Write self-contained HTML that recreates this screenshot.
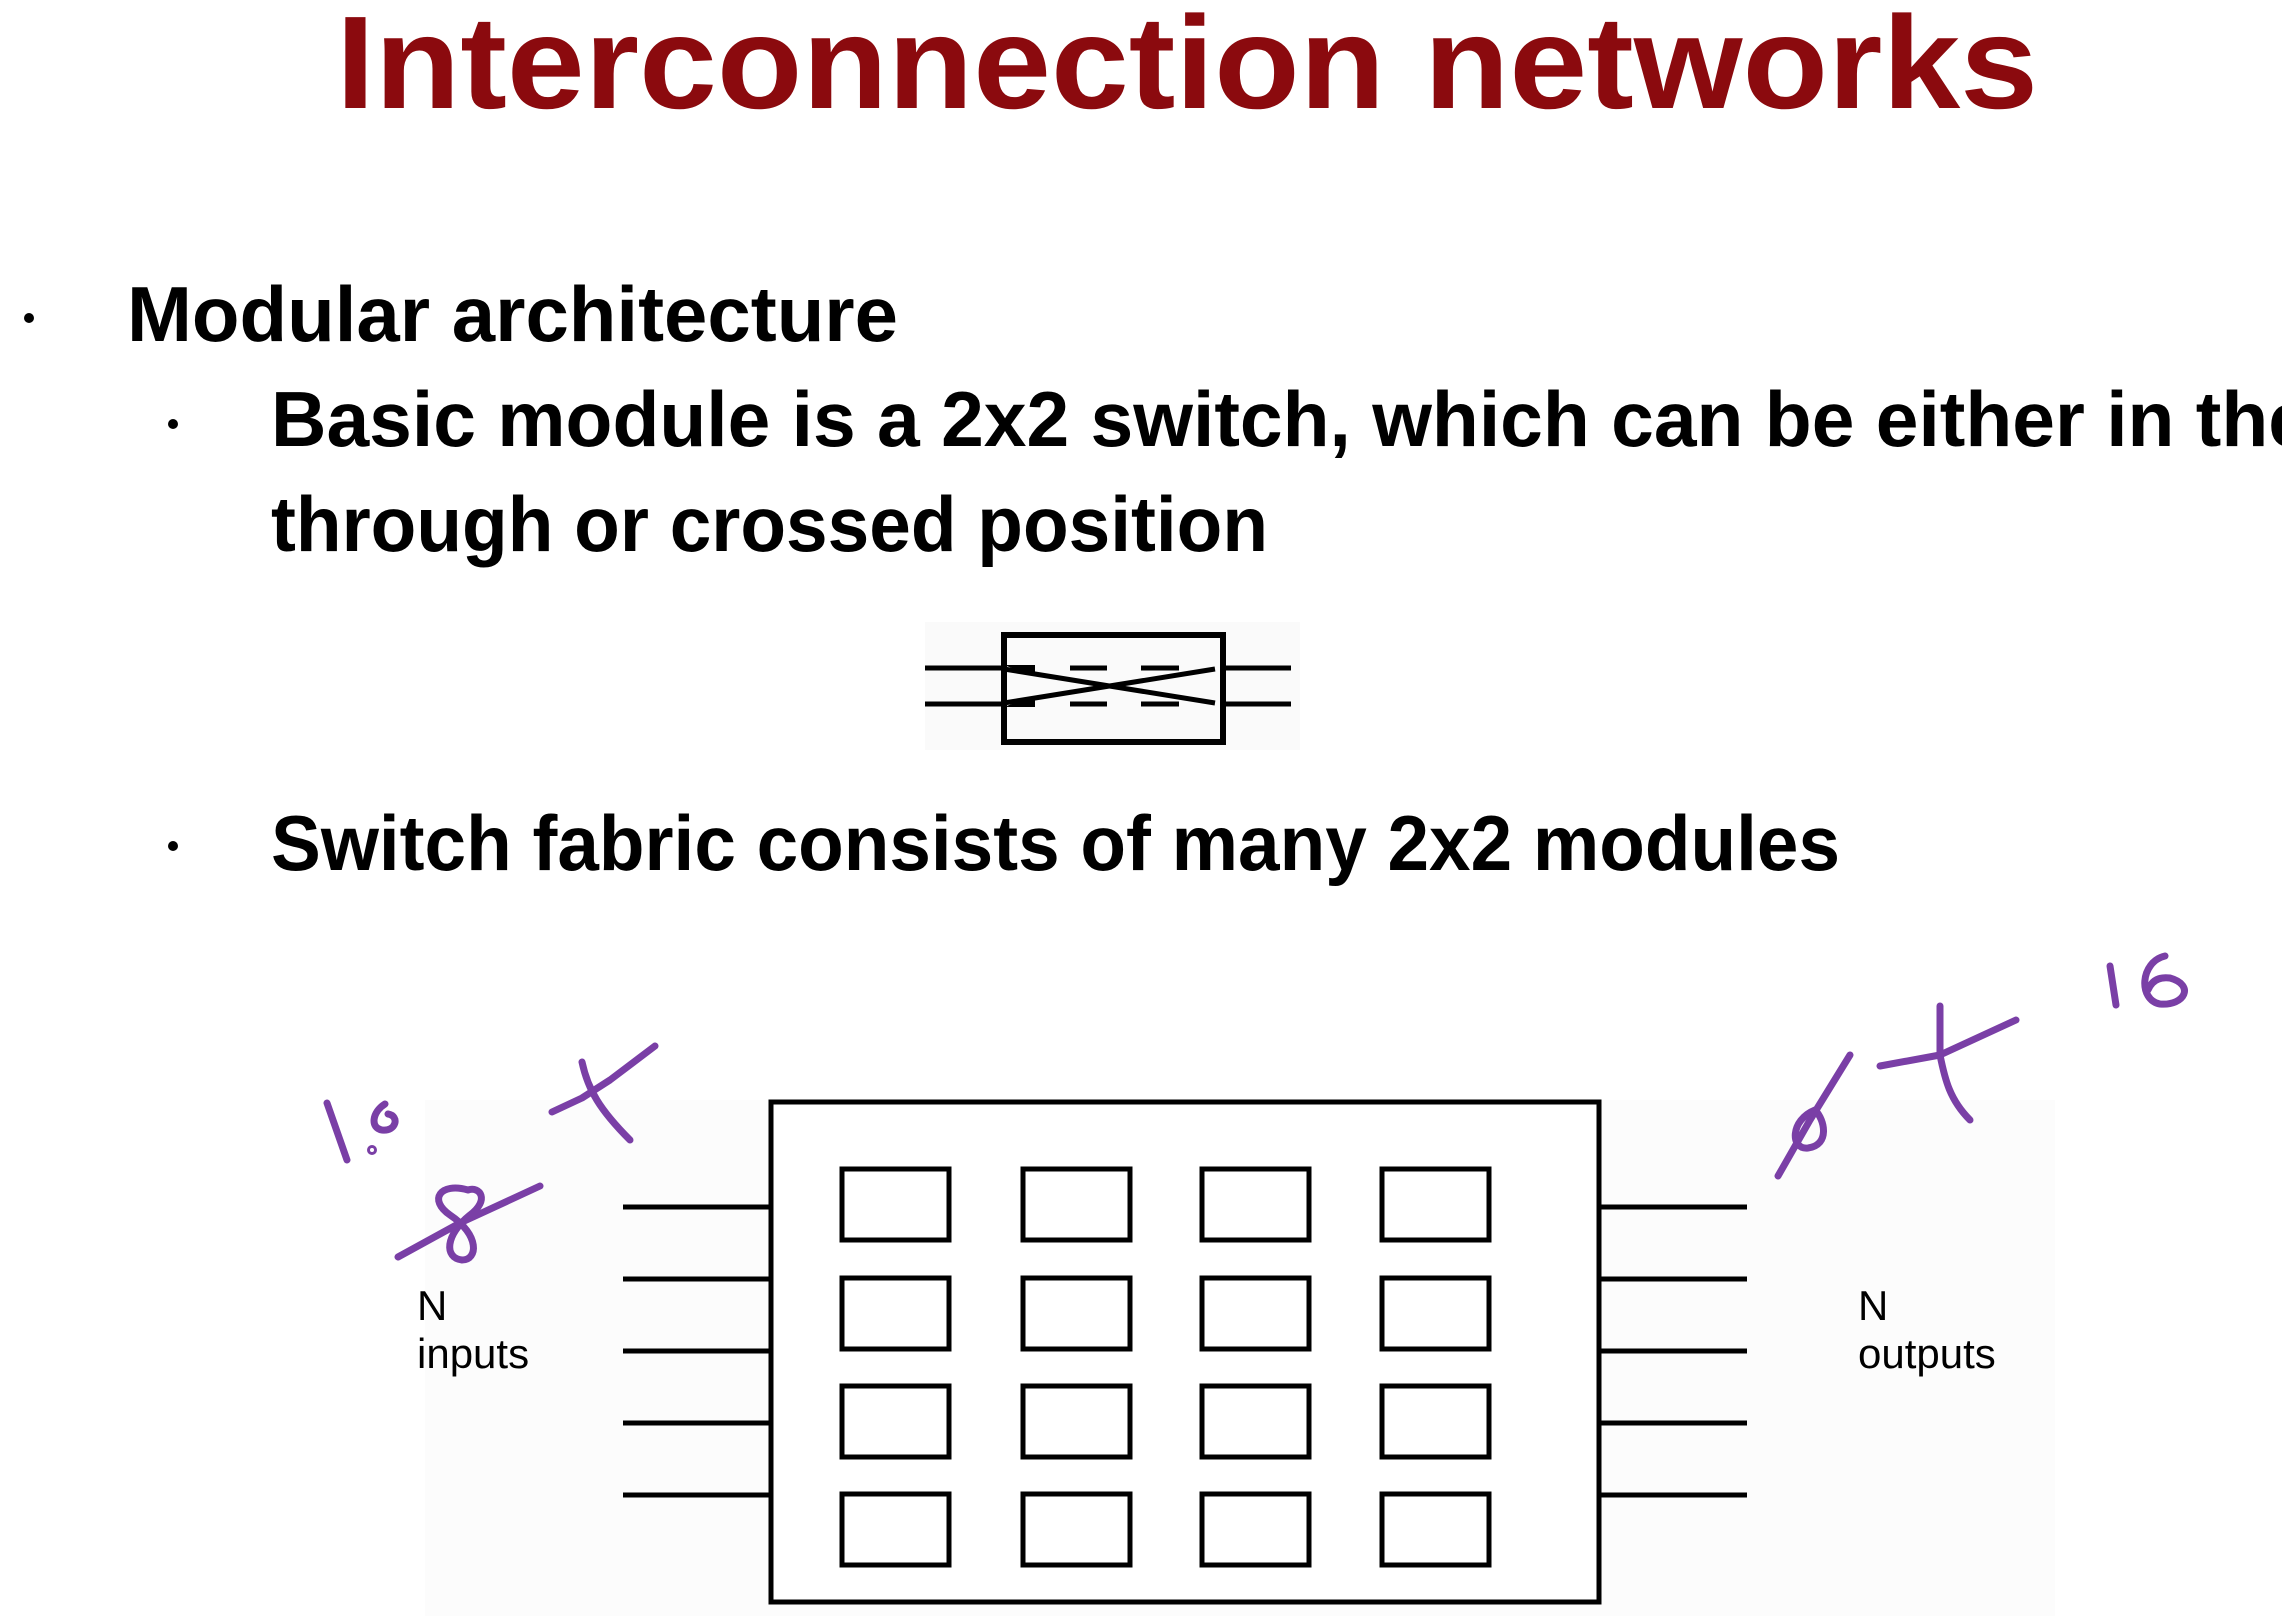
<!DOCTYPE html>
<html><head><meta charset="utf-8"><style>
html,body{margin:0;padding:0;background:#fff;}
svg{display:block;}
</style></head><body>
<svg width="2282" height="1616" viewBox="0 0 2282 1616" xmlns="http://www.w3.org/2000/svg">
<rect width="2282" height="1616" fill="#fff"/>
<text x="336" y="108" font-family="Liberation Sans, sans-serif" font-weight="bold" font-size="132" fill="#8b0a0e" textLength="1702" lengthAdjust="spacingAndGlyphs">Interconnection networks</text>
<g font-family="Liberation Sans, sans-serif" font-weight="bold" font-size="78" fill="#000">
<text x="127" y="341" textLength="771" lengthAdjust="spacingAndGlyphs">Modular architecture</text>
<text x="271" y="446" textLength="2040" lengthAdjust="spacingAndGlyphs">Basic module is a 2x2 switch, which can be either in the</text>
<text x="271" y="551" textLength="997" lengthAdjust="spacingAndGlyphs">through or crossed position</text>
<text x="271" y="870" textLength="1569" lengthAdjust="spacingAndGlyphs">Switch fabric consists of many 2x2 modules</text>
</g>
<circle cx="29" cy="318" r="5" fill="#000"/>
<circle cx="173" cy="424" r="5" fill="#000"/>
<circle cx="173" cy="846" r="5" fill="#000"/>
<g transform="translate(-5,-3)">
<rect x="930" y="625" width="375" height="128" fill="#fafafa"/>
<g stroke="#000" fill="none">
<rect x="1009" y="638" width="219" height="107" stroke-width="6"/>
<line x1="930" y1="671" x2="1009" y2="671" stroke-width="5"/>
<line x1="930" y1="707" x2="1009" y2="707" stroke-width="5"/>
<line x1="1228" y1="671" x2="1296" y2="671" stroke-width="5"/>
<line x1="1228" y1="707" x2="1296" y2="707" stroke-width="5"/>
<line x1="1009" y1="672" x2="1220" y2="706" stroke-width="5"/>
<line x1="1009" y1="706" x2="1220" y2="672" stroke-width="5"/>
<line x1="1075" y1="671" x2="1112" y2="671" stroke-width="5"/>
<line x1="1146" y1="671" x2="1184" y2="671" stroke-width="5"/>
<line x1="1075" y1="707" x2="1112" y2="707" stroke-width="5"/>
<line x1="1146" y1="707" x2="1184" y2="707" stroke-width="5"/>
</g>
<polygon points="1009,668 1040,668 1040,675 1030,676" fill="#000"/>
<polygon points="1009,710 1040,710 1040,703 1030,702" fill="#000"/>
</g>
<rect x="425" y="1100" width="1630" height="516" fill="#fcfcfc"/>
<g transform="translate(-6,-5)">
<g stroke="#000" fill="#fff" stroke-width="5">
<rect x="777" y="1107" width="828" height="500"/>
<rect x="848" y="1174" width="107" height="71"/><rect x="1029" y="1174" width="107" height="71"/><rect x="1208" y="1174" width="107" height="71"/><rect x="1388" y="1174" width="107" height="71"/>
<rect x="848" y="1283" width="107" height="71"/><rect x="1029" y="1283" width="107" height="71"/><rect x="1208" y="1283" width="107" height="71"/><rect x="1388" y="1283" width="107" height="71"/>
<rect x="848" y="1391" width="107" height="71"/><rect x="1029" y="1391" width="107" height="71"/><rect x="1208" y="1391" width="107" height="71"/><rect x="1388" y="1391" width="107" height="71"/>
<rect x="848" y="1499" width="107" height="71"/><rect x="1029" y="1499" width="107" height="71"/><rect x="1208" y="1499" width="107" height="71"/><rect x="1388" y="1499" width="107" height="71"/>
<line x1="629" y1="1212" x2="777" y2="1212"/><line x1="629" y1="1284" x2="777" y2="1284"/><line x1="629" y1="1356" x2="777" y2="1356"/><line x1="629" y1="1428" x2="777" y2="1428"/><line x1="629" y1="1500" x2="777" y2="1500"/>
<line x1="1605" y1="1212" x2="1753" y2="1212"/><line x1="1605" y1="1284" x2="1753" y2="1284"/><line x1="1605" y1="1356" x2="1753" y2="1356"/><line x1="1605" y1="1428" x2="1753" y2="1428"/><line x1="1605" y1="1500" x2="1753" y2="1500"/>
</g>
</g>
<g font-family="Liberation Sans, sans-serif" font-size="42" fill="#000">
<text x="417" y="1320">N</text><text x="417" y="1368">inputs</text>
<text x="1858" y="1320">N</text><text x="1858" y="1368">outputs</text>
</g>
<g stroke="#7a3fa6" stroke-width="7" fill="none" stroke-linecap="round" stroke-linejoin="round">
<path d="M327,1103 L347,1160"/>
<path d="M385,1104 C372,1112 370,1128 382,1130 C396,1132 400,1116 388,1114"/>
<circle cx="372" cy="1150" r="1.5"/>
<path d="M552,1112 L582,1098 L610,1080 L655,1046"/>
<path d="M582,1062 C588,1090 600,1110 630,1140"/>
<path d="M398,1257 L460,1223 L540,1186"/>
<path d="M468,1190 C440,1182 428,1200 450,1215 C480,1235 478,1260 462,1260 C444,1258 445,1235 470,1215 C490,1200 480,1186 468,1190"/>
<path d="M1778,1176 L1810,1120 L1850,1055"/>
<path d="M1815,1110 C1790,1120 1790,1150 1808,1148 C1830,1145 1825,1120 1815,1110"/>
<path d="M1880,1066 L1940,1055 L2016,1020"/>
<path d="M1940,1006 L1940,1055 C1945,1080 1950,1100 1970,1120"/>
<path d="M2110,966 L2116,1005"/>
<path d="M2165,956 C2140,962 2138,1000 2160,1004 C2185,1006 2195,985 2170,978 C2155,976 2150,985 2148,990"/>
</g>
</svg>
</body></html>
